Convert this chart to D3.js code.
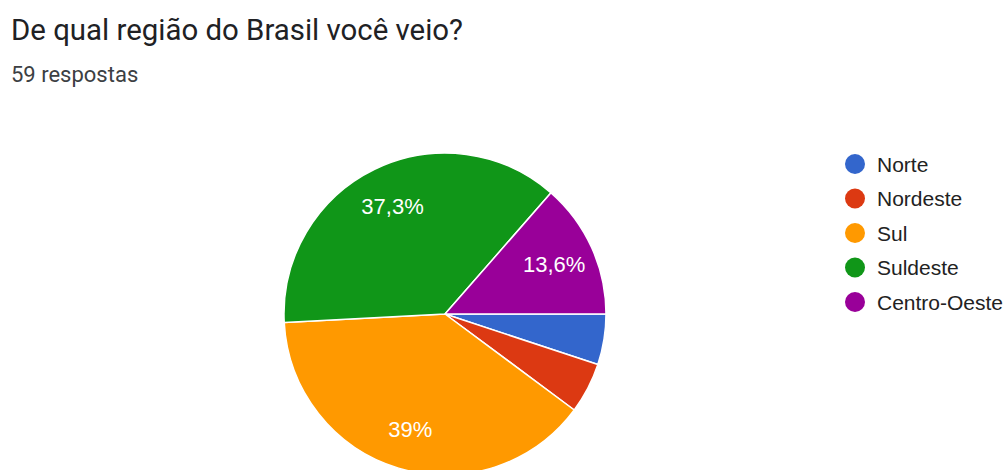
<!DOCTYPE html>
<html lang="pt-BR">
<head>
<meta charset="utf-8">
<script src="https://cdn.jsdelivr.net/npm/d3@7"></script>
<style>
  html, body { margin: 0; padding: 0; background: #ffffff; }
  svg { display: block; }
</style>
</head>
<body>
<svg id="chart" width="1008" height="470"></svg>
<script>
// Respostas por região (59 no total)
const regions = ["Norte", "Nordeste", "Sul", "Suldeste", "Centro-Oeste"];
const counts = [3, 3, 23, 22, 8];
const colors = ["#3366cc", "#dc3912", "#ff9900", "#109618", "#990099"];

const title = "De qual região do Brasil você veio?";
const subtitle = "59 respostas";

const svg = d3.select("#chart");
const total = d3.sum(counts);

// Cabeçalho
svg.append("text")
  .attr("x", 11).attr("y", 40)
  .attr("font-family", "Roboto, 'Noto Sans', sans-serif")
  .attr("font-size", 29.4)
  .attr("fill", "#202124")
  .text(title);

svg.append("text")
  .attr("x", 11).attr("y", 82)
  .attr("font-family", "Roboto, 'Noto Sans', sans-serif")
  .attr("font-size", 22)
  .attr("fill", "#3c4043")
  .text(subtitle);

// Pizza: começa às 3 horas e gira no sentido horário
const cx = 445, cy = 314, radius = 161;
const data = regions.map((r, i) => ({ region: r, value: counts[i], color: colors[i] }));

const pie = d3.pie()
  .sort(null)
  .value(d => d.value)
  .startAngle(Math.PI / 2)
  .endAngle(Math.PI / 2 + 2 * Math.PI);

const arc = d3.arc().innerRadius(0).outerRadius(radius);
const labelArc = d3.arc().innerRadius(radius * 0.745).outerRadius(radius * 0.745);

const g = svg.append("g").attr("transform", `translate(${cx},${cy})`);
const arcs = pie(data);

g.selectAll("path.slice")
  .data(arcs)
  .join("path")
  .attr("class", "slice")
  .attr("d", arc)
  .attr("fill", d => d.data.color)
  .attr("stroke", "#ffffff")
  .attr("stroke-width", 1.5)
  .attr("stroke-linejoin", "round");

// Rótulos de porcentagem apenas nas fatias maiores
const fmt = v => {
  const p = Math.round(v / total * 1000) / 10;
  return (Number.isInteger(p) ? p.toFixed(0) : p.toFixed(1)).replace(".", ",") + "%";
};

g.selectAll("text.pct")
  .data(arcs.filter(d => d.data.value / total >= 0.1))
  .join("text")
  .attr("class", "pct")
  .attr("transform", d => `translate(${labelArc.centroid(d)})`)
  .attr("text-anchor", "middle")
  .attr("dy", "0.36em")
  .attr("font-family", "Arial, 'Liberation Sans', sans-serif")
  .attr("font-size", 22)
  .attr("fill", "#ffffff")
  .text(d => fmt(d.data.value));

// Legenda
const legendY = d3.scalePoint()
  .domain(regions)
  .range([164, 302]);

const legend = svg.append("g");
const items = legend.selectAll("g.item")
  .data(data)
  .join("g")
  .attr("class", "item")
  .attr("transform", d => `translate(855,${legendY(d.region)})`);

items.append("circle")
  .attr("r", 10)
  .attr("fill", d => d.color);

items.append("text")
  .attr("x", 22)
  .attr("dy", "0.36em")
  .attr("font-family", "Arial, 'Liberation Sans', sans-serif")
  .attr("font-size", 21)
  .attr("fill", "#222222")
  .text(d => d.region);
</script>
</body>
</html>
